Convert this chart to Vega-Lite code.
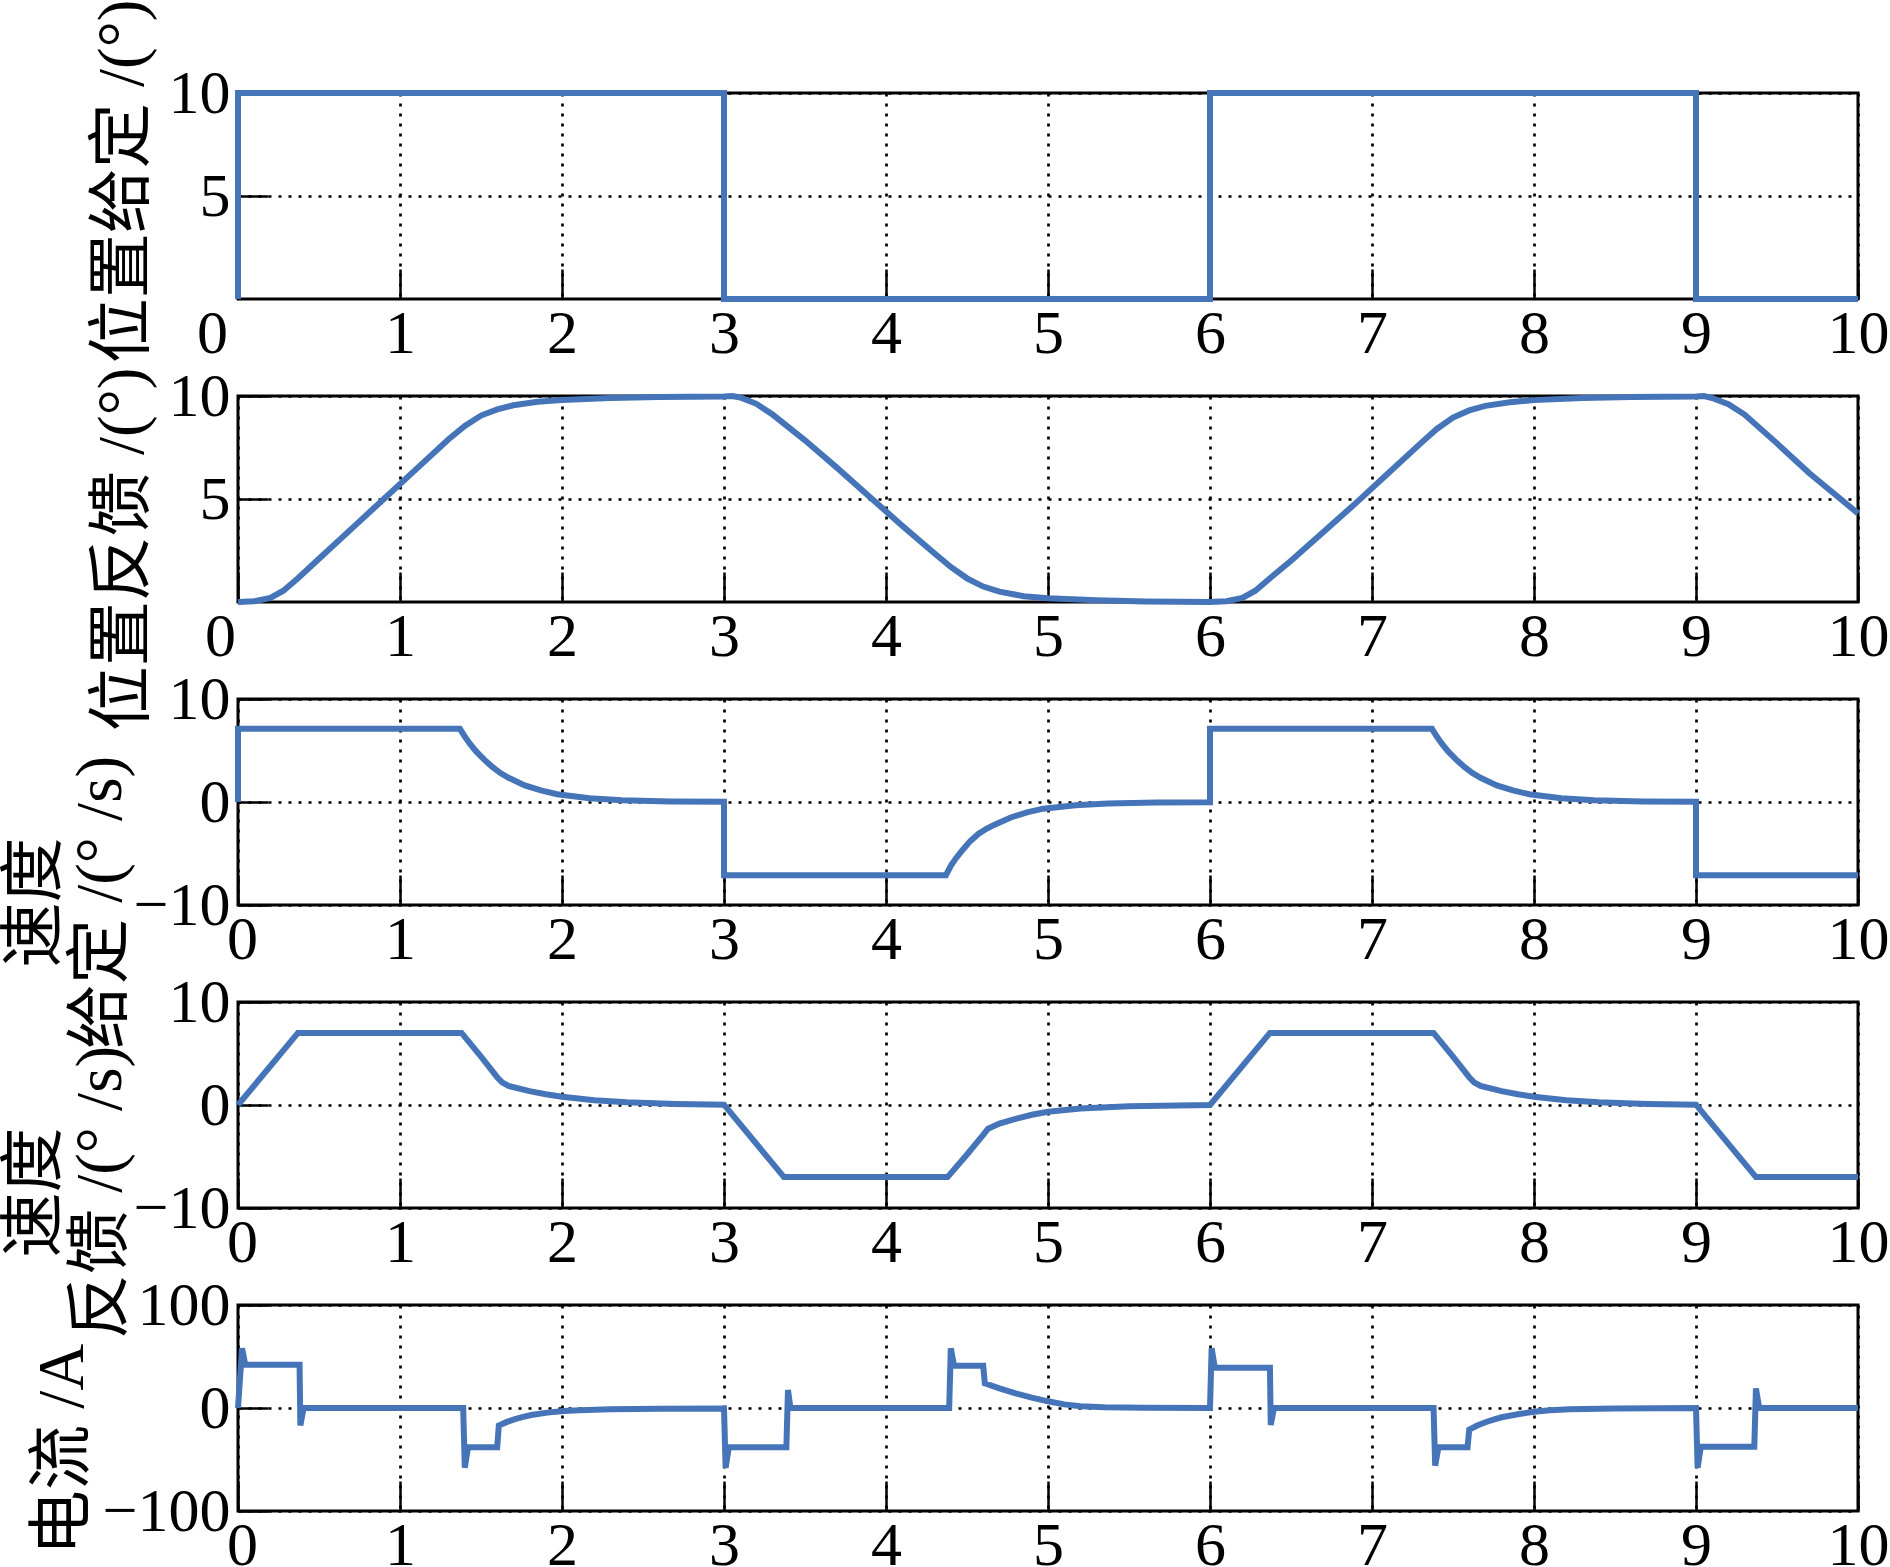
{
  "$schema": "https://vega.github.io/schema/vega-lite/v6.json",
  "autosize": {"type": "none"},
  "padding": {"left": 238, "top": 93, "right": 1652, "bottom": 1474},
  "background": "white",
  "bounds": "flush",
  "spacing": 97,
  "config": {
    "view": {"stroke": "black", "strokeWidth": 3},
    "line": {"color": "#4575b8", "strokeWidth": 6},
    "axis": {
      "domain": false,
      "grid": true, "gridColor": "black", "gridOpacity": 1, "gridWidth": 2.7, "gridDash": [3, 7],
      "ticks": true, "tickColor": "black", "tickWidth": 2.5, "tickSize": -30, "tickOpacity": 1,
      "labelFont": "Liberation Serif", "labelFontSize": 62, "labelColor": "black",
      "labelFlush": false, "labelOverlap": false,
      "titleFont": "Liberation Serif, Noto Sans CJK SC", "titleFontSize": 65, "titleFontWeight": "normal", "titleColor": "black"
    },
    "axisX": {"labelPadding": 34},
    "axisY": {"labelPadding": 38, "titleAngle": 270, "titleBaseline": "middle", "titleAlign": "center", "titleLineHeight": 66}
  },
  "datasets": {
    "p1": [
      {"t": 0, "v": 0}, {"t": 0, "v": 10}, {"t": 3, "v": 10}, {"t": 3, "v": 0},
      {"t": 6, "v": 0}, {"t": 6, "v": 10}, {"t": 9, "v": 10}, {"t": 9, "v": 0}, {"t": 10, "v": 0}
    ],
    "p2": [
      {"t": 0, "v": 0}, {"t": 0.1, "v": 0.04}, {"t": 0.2, "v": 0.2}, {"t": 0.28, "v": 0.55}, {"t": 0.37, "v": 1.15},
      {"t": 0.5, "v": 2.1}, {"t": 0.7, "v": 3.55}, {"t": 0.9, "v": 5.0}, {"t": 1.1, "v": 6.45}, {"t": 1.3, "v": 7.9},
      {"t": 1.4, "v": 8.55}, {"t": 1.5, "v": 9.05}, {"t": 1.6, "v": 9.35}, {"t": 1.7, "v": 9.55}, {"t": 1.85, "v": 9.72},
      {"t": 2.0, "v": 9.8}, {"t": 2.3, "v": 9.9}, {"t": 2.6, "v": 9.95}, {"t": 3.0, "v": 9.98}, {"t": 3.05, "v": 10.0},
      {"t": 3.1, "v": 9.93}, {"t": 3.2, "v": 9.62}, {"t": 3.3, "v": 9.1}, {"t": 3.5, "v": 7.85}, {"t": 3.7, "v": 6.5},
      {"t": 3.9, "v": 5.1}, {"t": 4.1, "v": 3.7}, {"t": 4.3, "v": 2.35}, {"t": 4.4, "v": 1.7}, {"t": 4.5, "v": 1.15},
      {"t": 4.6, "v": 0.75}, {"t": 4.7, "v": 0.5}, {"t": 4.85, "v": 0.28}, {"t": 5.0, "v": 0.18}, {"t": 5.3, "v": 0.08},
      {"t": 5.6, "v": 0.03}, {"t": 6.0, "v": 0.0},
      {"t": 6.1, "v": 0.04}, {"t": 6.2, "v": 0.2}, {"t": 6.28, "v": 0.55}, {"t": 6.37, "v": 1.15},
      {"t": 6.5, "v": 2.0}, {"t": 6.7, "v": 3.4}, {"t": 6.9, "v": 4.8}, {"t": 7.1, "v": 6.25}, {"t": 7.3, "v": 7.7},
      {"t": 7.4, "v": 8.4}, {"t": 7.5, "v": 8.95}, {"t": 7.6, "v": 9.3}, {"t": 7.7, "v": 9.52}, {"t": 7.85, "v": 9.7},
      {"t": 8.0, "v": 9.8}, {"t": 8.3, "v": 9.9}, {"t": 8.6, "v": 9.95}, {"t": 9.0, "v": 9.98}, {"t": 9.05, "v": 10.0},
      {"t": 9.1, "v": 9.9}, {"t": 9.2, "v": 9.6}, {"t": 9.3, "v": 9.1}, {"t": 9.5, "v": 7.7}, {"t": 9.7, "v": 6.25},
      {"t": 9.9, "v": 4.95}, {"t": 10.0, "v": 4.3}
    ],
    "p3": [
      {"t": 0, "v": 0}, {"t": 0, "v": 7.1}, {"t": 1.37, "v": 7.1}, {"t": 1.4, "v": 6.35}, {"t": 1.43, "v": 5.69},
      {"t": 1.47, "v": 4.91}, {"t": 1.52, "v": 4.11}, {"t": 1.57, "v": 3.41}, {"t": 1.62, "v": 2.81}, {"t": 1.67, "v": 2.35},
      {"t": 1.77, "v": 1.61}, {"t": 1.87, "v": 1.12}, {"t": 1.97, "v": 0.76}, {"t": 2.17, "v": 0.37}, {"t": 2.37, "v": 0.17},
      {"t": 2.67, "v": 0.06}, {"t": 3.0, "v": 0.02}, {"t": 3.0, "v": -7.1}, {"t": 4.37, "v": -7.1}, {"t": 4.4, "v": -6.2},
      {"t": 4.43, "v": -5.5}, {"t": 4.47, "v": -4.7}, {"t": 4.52, "v": -3.8}, {"t": 4.57, "v": -3.1}, {"t": 4.62, "v": -2.6},
      {"t": 4.67, "v": -2.2}, {"t": 4.77, "v": -1.5}, {"t": 4.87, "v": -1.0}, {"t": 4.97, "v": -0.65}, {"t": 5.17, "v": -0.32},
      {"t": 5.37, "v": -0.15}, {"t": 5.67, "v": -0.05}, {"t": 6.0, "v": -0.02}, {"t": 6.0, "v": 7.1}, {"t": 7.37, "v": 7.1},
      {"t": 7.4, "v": 6.35}, {"t": 7.43, "v": 5.69}, {"t": 7.47, "v": 4.91}, {"t": 7.52, "v": 4.11}, {"t": 7.57, "v": 3.41},
      {"t": 7.62, "v": 2.81}, {"t": 7.67, "v": 2.35}, {"t": 7.77, "v": 1.61}, {"t": 7.87, "v": 1.12}, {"t": 7.97, "v": 0.76},
      {"t": 8.17, "v": 0.37}, {"t": 8.37, "v": 0.17}, {"t": 8.67, "v": 0.06}, {"t": 9.0, "v": 0.02}, {"t": 9.0, "v": -7.1},
      {"t": 10.0, "v": -7.1}
    ],
    "p4": [
      {"t": 0, "v": 0}, {"t": 0.37, "v": 7.0}, {"t": 1.38, "v": 7.0}, {"t": 1.5, "v": 4.7}, {"t": 1.6, "v": 2.7},
      {"t": 1.63, "v": 2.2}, {"t": 1.67, "v": 1.85}, {"t": 1.8, "v": 1.35}, {"t": 1.9, "v": 1.05}, {"t": 2.0, "v": 0.8},
      {"t": 2.2, "v": 0.47}, {"t": 2.4, "v": 0.27}, {"t": 2.7, "v": 0.1}, {"t": 3.0, "v": 0.03},
      {"t": 3.37, "v": -7.0}, {"t": 4.38, "v": -7.0}, {"t": 4.5, "v": -4.8}, {"t": 4.6, "v": -2.9}, {"t": 4.63, "v": -2.3},
      {"t": 4.7, "v": -1.8}, {"t": 4.8, "v": -1.35}, {"t": 4.9, "v": -0.95}, {"t": 5.0, "v": -0.65}, {"t": 5.2, "v": -0.35},
      {"t": 5.5, "v": -0.12}, {"t": 6.0, "v": 0.0},
      {"t": 6.37, "v": 7.0}, {"t": 7.38, "v": 7.0}, {"t": 7.5, "v": 4.7}, {"t": 7.6, "v": 2.7},
      {"t": 7.63, "v": 2.2}, {"t": 7.67, "v": 1.85}, {"t": 7.8, "v": 1.35}, {"t": 7.9, "v": 1.05}, {"t": 8.0, "v": 0.8},
      {"t": 8.2, "v": 0.47}, {"t": 8.4, "v": 0.27}, {"t": 8.7, "v": 0.1}, {"t": 9.0, "v": 0.03},
      {"t": 9.37, "v": -7.0}, {"t": 10.0, "v": -7.0}
    ],
    "p5": [
      {"t": 0, "v": 0}, {"t": 0.025, "v": 58}, {"t": 0.045, "v": 42}, {"t": 0.38, "v": 42}, {"t": 0.385, "v": -17},
      {"t": 0.405, "v": 0}, {"t": 1.39, "v": 0}, {"t": 1.40, "v": -58}, {"t": 1.42, "v": -38}, {"t": 1.60, "v": -38},
      {"t": 1.61, "v": -17}, {"t": 1.66, "v": -13.5}, {"t": 1.71, "v": -10.8}, {"t": 1.76, "v": -8.6}, {"t": 1.81, "v": -6.8},
      {"t": 1.91, "v": -4.5}, {"t": 2.01, "v": -3.0}, {"t": 2.11, "v": -2.1}, {"t": 2.3, "v": -1.3}, {"t": 2.6, "v": -0.8},
      {"t": 3.0, "v": -0.5}, {"t": 3.01, "v": -58}, {"t": 3.03, "v": -38}, {"t": 3.385, "v": -38}, {"t": 3.395, "v": 17.5},
      {"t": 3.41, "v": 0}, {"t": 4.39, "v": 0}, {"t": 4.40, "v": 58}, {"t": 4.42, "v": 41}, {"t": 4.60, "v": 41},
      {"t": 4.61, "v": 24}, {"t": 4.7, "v": 19}, {"t": 4.8, "v": 14.2}, {"t": 4.9, "v": 10}, {"t": 5.0, "v": 6.5},
      {"t": 5.1, "v": 3.5}, {"t": 5.2, "v": 1.8}, {"t": 5.35, "v": 0.8}, {"t": 5.6, "v": 0.2}, {"t": 6.0, "v": 0},
      {"t": 6.01, "v": 58}, {"t": 6.03, "v": 39}, {"t": 6.37, "v": 39}, {"t": 6.375, "v": -16.5}, {"t": 6.395, "v": 0},
      {"t": 7.38, "v": 0}, {"t": 7.39, "v": -56}, {"t": 7.41, "v": -38}, {"t": 7.59, "v": -38}, {"t": 7.60, "v": -21},
      {"t": 7.65, "v": -17}, {"t": 7.7, "v": -13.8}, {"t": 7.75, "v": -11.2}, {"t": 7.8, "v": -9.0}, {"t": 7.9, "v": -6.0},
      {"t": 8.0, "v": -3.6}, {"t": 8.1, "v": -2.2}, {"t": 8.22, "v": -1.2}, {"t": 8.5, "v": -0.5}, {"t": 9.0, "v": 0},
      {"t": 9.01, "v": -58}, {"t": 9.03, "v": -37.5}, {"t": 9.36, "v": -37.5}, {"t": 9.37, "v": 19}, {"t": 9.39, "v": 0},
      {"t": 10.0, "v": 0}
    ]
  },
  "vconcat": [
    {
      "width": 1620, "height": 206,
      "data": {"name": "p1"},
      "mark": {"type": "line", "strokeWidth": 6},
      "encoding": {
        "x": {"field": "t", "type": "quantitative", "scale": {"domain": [0, 10], "nice": false, "zero": false},
              "axis": {"values": [0, 1, 2, 3, 4, 5, 6, 7, 8, 9, 10], "title": null,
                       "labelOffset": {"condition": {"test": "datum.value === 0", "value": -26}, "value": 0}}},
        "y": {"field": "v", "type": "quantitative", "scale": {"domain": [0, 10], "nice": false},
              "axis": {"values": [5, 10], "title": "位置给定 /(°)", "titleX": -116, "titleY": 88}},
        "order": {"value": null}
      }
    },
    {
      "width": 1620, "height": 206,
      "data": {"name": "p2"},
      "mark": {"type": "line", "strokeWidth": 6},
      "encoding": {
        "x": {"field": "t", "type": "quantitative", "scale": {"domain": [0, 10], "nice": false, "zero": false},
              "axis": {"values": [0, 1, 2, 3, 4, 5, 6, 7, 8, 9, 10], "title": null,
                       "labelOffset": {"condition": {"test": "datum.value === 0", "value": -18}, "value": 0}}},
        "y": {"field": "v", "type": "quantitative", "scale": {"domain": [0, 10], "nice": false},
              "axis": {"values": [5, 10], "title": "位置反馈 /(°)", "titleX": -116, "titleY": 153}},
        "order": {"value": null}
      }
    },
    {
      "width": 1620, "height": 206,
      "data": {"name": "p3"},
      "mark": {"type": "line", "strokeWidth": 6},
      "encoding": {
        "x": {"field": "t", "type": "quantitative", "scale": {"domain": [0, 10], "nice": false, "zero": false},
              "axis": {"values": [0, 1, 2, 3, 4, 5, 6, 7, 8, 9, 10], "title": null,
                       "labelOffset": {"condition": {"test": "datum.value === 0", "value": 4}, "value": 0}}},
        "y": {"field": "v", "type": "quantitative", "scale": {"domain": [-10, 10], "nice": false},
              "axis": {"values": [-10, 0, 10], "title": ["速度", "给定 /(° /s)"], "titleX": -204, "titleY": 203}},
        "order": {"value": null}
      }
    },
    {
      "width": 1620, "height": 206,
      "data": {"name": "p4"},
      "mark": {"type": "line", "strokeWidth": 6},
      "encoding": {
        "x": {"field": "t", "type": "quantitative", "scale": {"domain": [0, 10], "nice": false, "zero": false},
              "axis": {"values": [0, 1, 2, 3, 4, 5, 6, 7, 8, 9, 10], "title": null,
                       "labelOffset": {"condition": {"test": "datum.value === 0", "value": 4}, "value": 0}}},
        "y": {"field": "v", "type": "quantitative", "scale": {"domain": [-10, 10], "nice": false},
              "axis": {"values": [-10, 0, 10], "title": ["速度", "反馈 /(° /s)"], "titleX": -204, "titleY": 190}},
        "order": {"value": null}
      }
    },
    {
      "width": 1620, "height": 206,
      "data": {"name": "p5"},
      "mark": {"type": "line", "strokeWidth": 6},
      "encoding": {
        "x": {"field": "t", "type": "quantitative", "scale": {"domain": [0, 10], "nice": false, "zero": false},
              "axis": {"values": [0, 1, 2, 3, 4, 5, 6, 7, 8, 9, 10], "title": null,
                       "labelOffset": {"condition": {"test": "datum.value === 0", "value": 4}, "value": 0}}},
        "y": {"field": "v", "type": "quantitative", "scale": {"domain": [-100, 100], "nice": false},
              "axis": {"values": [-100, 0, 100], "title": "电流 /A", "titleX": -176, "titleY": 144}},
        "order": {"value": null}
      }
    }
  ]
}
